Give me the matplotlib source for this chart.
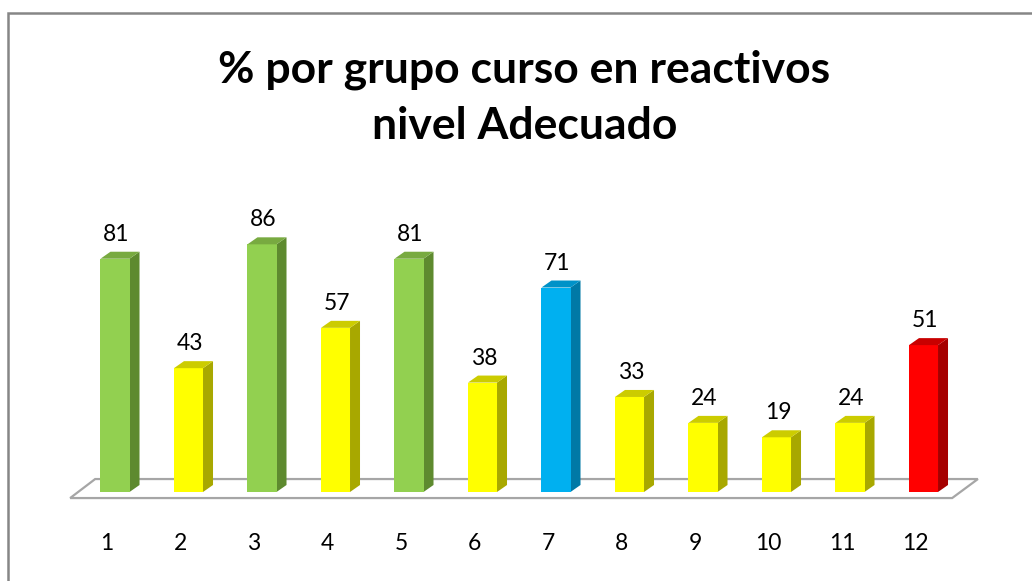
import matplotlib.pyplot as plt
from matplotlib.patches import Polygon, Rectangle

plt.rcParams['font.family'] = ['Lato', 'DejaVu Sans']

categories = ['1', '2', '3', '4', '5', '6', '7', '8', '9', '10', '11', '12']
values = [81, 43, 86, 57, 81, 38, 71, 33, 24, 19, 24, 51]
groups = ['g', 'y', 'g', 'y', 'g', 'y', 'b', 'y', 'y', 'y', 'y', 'r']

# front, side, top
palette = {
    'g': ('#92D050', '#5E8A2F', '#78AA40'),
    'y': ('#FFFF00', '#A8A800', '#CCCC00'),
    'b': ('#00B0F0', '#0079A6', '#0092C8'),
    'r': ('#FF0000', '#A50000', '#C80000'),
}

W, H = 1032, 581
fig = plt.figure(figsize=(W / 100, H / 100), dpi=100)

# axes placed so that one category = 73.5 px and one unit = 2.88 px
x0, x1 = -0.7, 11.9
y0, y1 = -10, 100
left = (115 + x0 * 73.5) / W
width = (x1 - x0) * 73.5 / W
bottom = (H - (492 - y0 * 2.88)) / H
height = (y1 - y0) * 2.88 / H
ax = fig.add_axes([left, bottom, width, height])
ax.set_xlim(x0, x1)
ax.set_ylim(y0, y1)

bw = 0.395
dx, dy = 0.136, 2.43

# floor
n = len(values)
floor = Polygon([(-0.61, -2.1), (n - 1 + 0.39, -2.1), (n - 1 + 0.74, 4.5), (-0.27, 4.5)],
                closed=True, facecolor='white', edgecolor='#A6A6A6', lw=1.6, zorder=1)
ax.add_patch(floor)

xs = list(range(n))
fronts = [palette[g][0] for g in groups]
ax.bar(xs, values, width=bw, color=fronts, zorder=3)

for x, v, g in zip(xs, values, groups):
    front, side, top = palette[g]
    r = x + bw / 2
    l = x - bw / 2
    ax.add_patch(Polygon([(r, 0), (r + dx, dy), (r + dx, v + dy), (r, v)],
                         closed=True, facecolor=side, edgecolor='none', zorder=2))
    ax.add_patch(Polygon([(l, v), (r, v), (r + dx, v + dy), (l + dx, v + dy)],
                         closed=True, facecolor=top, edgecolor='none', zorder=4))
    ax.annotate(str(v), (x + 0.02, v + dy), xytext=(0, 5), textcoords='offset points',
                ha='center', va='bottom', fontsize=16.5, color='black')

ax.set_xticks([x - 0.11 for x in xs])
ax.set_xticklabels(categories, fontsize=16.5)
ax.tick_params(axis='x', length=0, pad=9)
ax.set_yticks([])
for s in ax.spines.values():
    s.set_visible(False)

fig.text(0.508, 1 - 70 / H, '% por grupo curso en reactivos', ha='center', va='center',
         fontsize=32, fontweight='bold')
fig.text(0.508, 1 - 126 / H, 'nivel Adecuado', ha='center', va='center',
         fontsize=32, fontweight='bold')

# chart area border
fig.patches.append(Rectangle((8 / W, -0.1), 1.2, 1.1 - 13 / H, transform=fig.transFigure,
                             fill=False, edgecolor='#868686', lw=1.8))

fig.savefig('out.png', dpi=100)
